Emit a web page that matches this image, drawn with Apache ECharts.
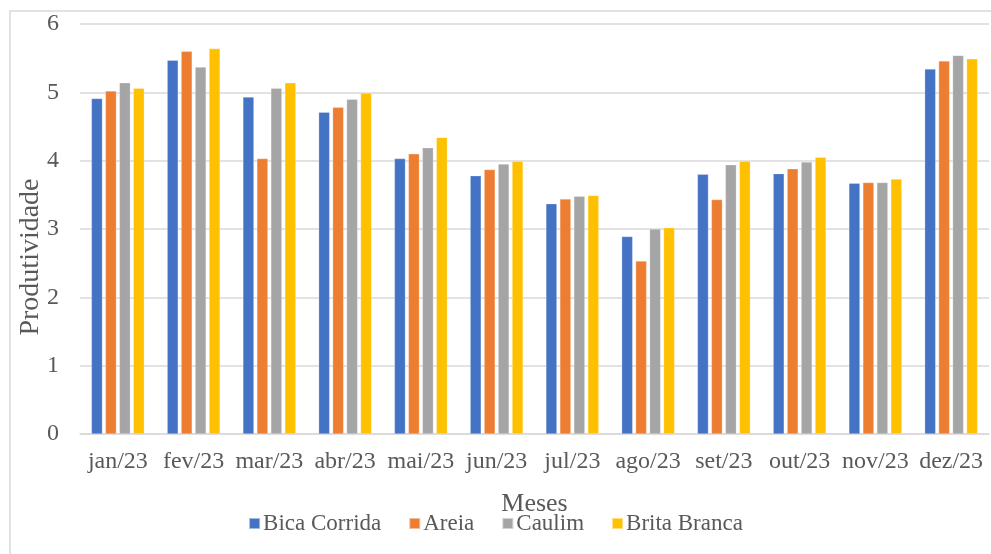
<!DOCTYPE html>
<html>
<head>
<meta charset="utf-8">
<script src="https://cdn.jsdelivr.net/npm/echarts@6/dist/echarts.min.js"></script>
<style>html,body{margin:0;padding:0;background:#fff;}#c{width:991px;height:554px;}</style>
</head>
<body>
<div id="c"></div>
<script>
const months = ['jan/23','fev/23','mar/23','abr/23','mai/23','jun/23','jul/23','ago/23','set/23','out/23','nov/23','dez/23'];
const bicaCorrida = [4.91,5.47,4.93,4.71,4.03,3.78,3.37,2.89,3.80,3.81,3.67,5.34];
const areia       = [5.02,5.60,4.03,4.78,4.10,3.87,3.44,2.53,3.43,3.88,3.68,5.46];
const caulim      = [5.14,5.37,5.06,4.90,4.19,3.95,3.48,3.00,3.94,3.98,3.68,5.54];
const britaBranca = [5.06,5.64,5.14,4.99,4.34,3.99,3.49,3.02,3.99,4.05,3.73,5.49];
const seriesNames = ['Bica Corrida','Areia','Caulim','Brita Branca'];
const colors = ['#4472C4','#ED7D31','#A5A5A5','#FFC000'];

const font = '"Liberation Serif","Times New Roman",serif';
const txt = '#595959';
const chart = echarts.init(document.getElementById('c'));
const data = [bicaCorrida, areia, caulim, britaBranca];
chart.setOption({
  animation: false,
  textStyle: {fontFamily: font},
  graphic: [{type:'rect', shape:{x:10, y:11, width:1000, height:600}, style:{fill:'none', stroke:'#d9d9d9', lineWidth:1.5}, silent:true}],
  grid: {left: 80, right: 2, top: 24, bottom: 120},
  legend: {
    bottom: 14, left: 'center', itemWidth: 11, itemHeight: 11, itemGap: 27,
    icon: 'rect',
    textStyle: {fontFamily: font, fontSize: 23, color: txt, padding:[0,0,0,-2]},
    data: seriesNames
  },
  xAxis: {
    type: 'category', data: months,
    name: 'Meses', nameLocation: 'middle', nameGap: 57,
    nameTextStyle: {fontFamily: font, fontSize: 26, color: txt},
    axisLine: {lineStyle: {color: '#d9d9d9', width: 1.5}},
    axisTick: {length: 6, lineStyle: {color: '#d9d9d9', width: 1.5}},
    axisLabel: {fontFamily: font, fontSize: 24, color: txt, margin: 16, interval: 0}
  },
  yAxis: {
    type: 'value', min: 0, max: 6, interval: 1,
    name: 'Produtividade', nameLocation: 'middle', nameGap: 35, nameMoveOverlap: false,
    nameTextStyle: {fontFamily: font, fontSize: 28, color: txt, padding: [0, 56, 0, 0]},
    axisLine: {show: false}, axisTick: {show: false},
    axisLabel: {fontFamily: font, fontSize: 24, color: txt, margin: 21},
    splitLine: {lineStyle: {color: '#d9d9d9', width: 1.5}}
  },
  series: seriesNames.map((n, i) => ({
    name: n, type: 'bar', data: data[i],
    barWidth: 11, barGap: '27%', barCategoryGap: '30%',
    itemStyle: {color: colors[i], borderColor: 'rgba(255,255,255,0.5)', borderWidth: 0.5}
  }))
});
</script>
</body>
</html>
